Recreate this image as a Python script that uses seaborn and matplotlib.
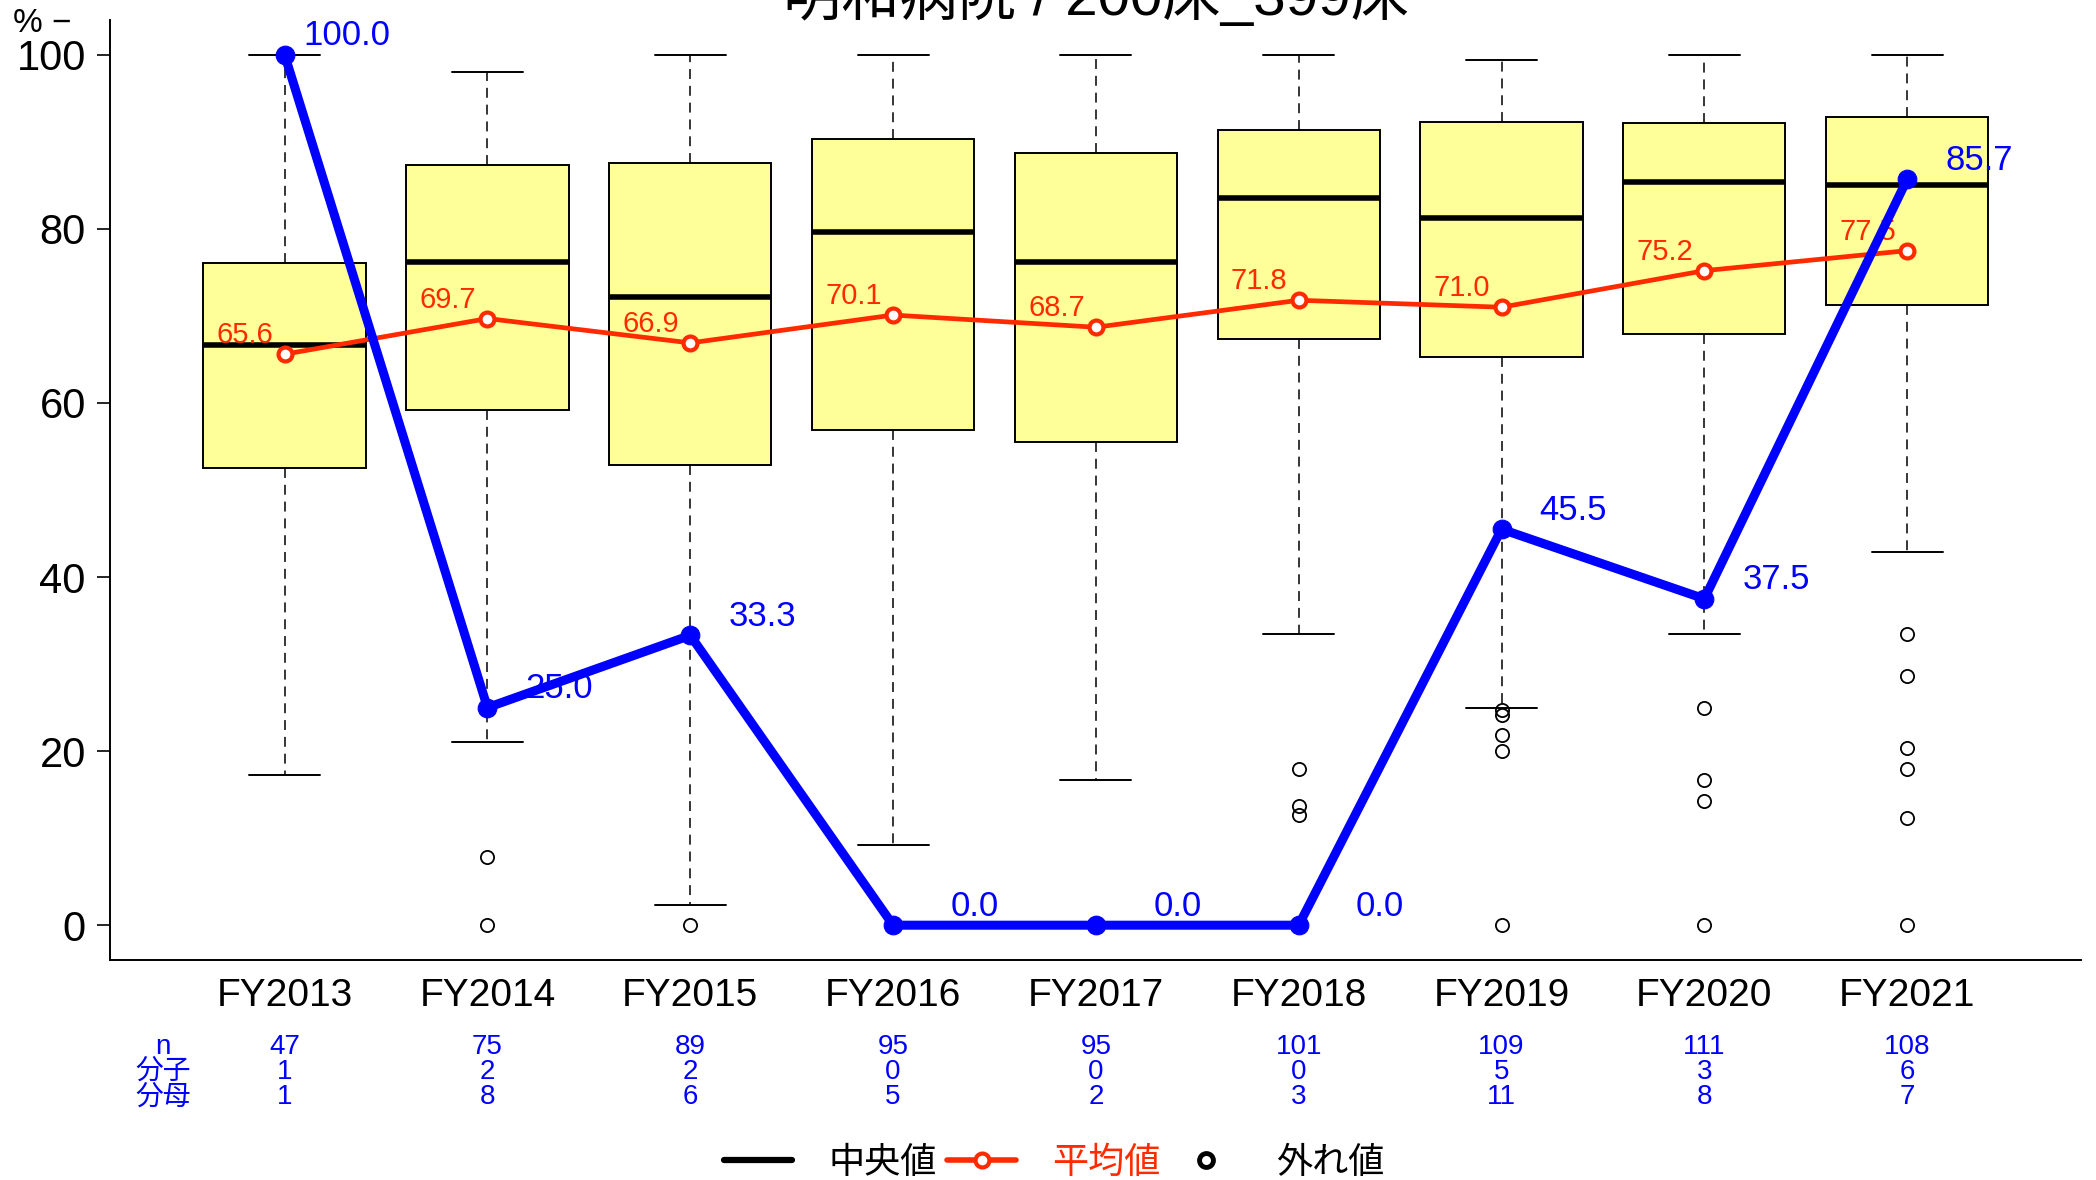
import matplotlib
matplotlib.use("Agg")
import matplotlib.pyplot as plt
import matplotlib.transforms as mtransforms
from matplotlib import font_manager as fm
from matplotlib.lines import Line2D
import numpy as np
import pandas as pd
import seaborn as sns

# ---------------- data ----------------
years = ["FY2013", "FY2014", "FY2015", "FY2016", "FY2017", "FY2018", "FY2019", "FY2020", "FY2021"]
q1 = [52.5, 59.2, 52.9, 56.9, 55.5, 67.3, 65.3, 67.9, 71.2]
median = [66.7, 76.2, 72.2, 79.6, 76.2, 83.6, 81.3, 85.4, 85.1]
q3 = [76.1, 87.3, 87.6, 90.3, 88.7, 91.4, 92.3, 92.2, 92.9]
whisker_low = [17.2, 21.0, 2.3, 9.2, 16.7, 33.4, 25.0, 33.4, 42.9]
whisker_high = [100.0, 98.0, 100.0, 100.0, 100.0, 100.0, 99.4, 100.0, 100.0]
outliers = [
    [],
    [7.8, 0.0],
    [0.0],
    [],
    [],
    [17.9, 13.7, 12.7],
    [24.7, 24.1, 21.8, 20.0, 0.0],
    [25.0, 16.7, 14.3, 0.0],
    [33.4, 28.6, 20.4, 18.0, 12.3, 0.0],
]
means = [65.6, 69.7, 66.9, 70.1, 68.7, 71.8, 71.0, 75.2, 77.5]
hospital = [100.0, 25.0, 33.3, 0.0, 0.0, 0.0, 45.5, 37.5, 85.7]
n_count = [47, 75, 89, 95, 95, 101, 109, 111, 108]
numerator = [1, 2, 2, 0, 0, 0, 5, 3, 6]
denominator = [1, 8, 6, 5, 2, 3, 11, 8, 7]
row_labels = ["n", "分子", "分母"]
legend_labels = ["中央値", "平均値", "外れ値"]
title = "明和病院 / 200床_399床"
y_ticks = [0, 20, 40, 60, 80, 100]

# ---------------- style ----------------
sns.set_theme(style="white")
names = {f.name for f in fm.fontManager.ttflist}
latin = "Liberation Sans Narrow" if "Liberation Sans Narrow" in names else "Liberation Sans"
plt.rcParams["font.family"] = [latin, "Noto Sans CJK JP", "DejaVu Sans"]
plt.rcParams["axes.unicode_minus"] = False

RED = "#FF2A00"
BLUE = "#0000FF"
YELLOW = "#FFFF99"

W, H = 2096, 1180
fig = plt.figure(figsize=(W / 100, H / 100), dpi=100)
ax = fig.add_axes([110 / W, 1 - 960 / H, (2081 - 110) / W, (960 - 20) / H])

pos = np.arange(1, len(years) + 1)

stats = [
    dict(med=median[i], q1=q1[i], q3=q3[i], whislo=whisker_low[i], whishi=whisker_high[i],
         fliers=outliers[i], label=years[i])
    for i in range(len(years))
]
ax.bxp(
    stats, positions=pos, widths=0.8, capwidths=0.35, patch_artist=True, showfliers=True,
    manage_ticks=False,
    boxprops=dict(facecolor=YELLOW, edgecolor="black", linewidth=1.4),
    whiskerprops=dict(color="black", linewidth=1.1, linestyle=(0, (6.5, 4.5))),
    capprops=dict(color="black", linewidth=1.4),
    medianprops=dict(color="black", linewidth=4.0, solid_capstyle="butt"),
    flierprops=dict(marker="o", markerfacecolor="none", markeredgecolor="black",
                    markersize=9.5, markeredgewidth=1.3),
)

df = pd.DataFrame({"pos": pos, "mean": means, "hospital": hospital})

sns.lineplot(data=df, x="pos", y="mean", ax=ax, color=RED, linewidth=3.4, marker="o",
             markersize=10, markerfacecolor="white", markeredgecolor=RED,
             markeredgewidth=3.0, zorder=4)
for x, v in zip(pos, means):
    ax.annotate(f"{v:.1f}", (x, v), xytext=(-8, 13.7), textcoords="offset points",
                ha="right", va="center", color=RED, fontsize=21, zorder=5)

sns.lineplot(data=df, x="pos", y="hospital", ax=ax, color=BLUE, linewidth=6.5, marker="o",
             markersize=13.5, markerfacecolor=BLUE, markeredgecolor=BLUE, zorder=6)
for x, v in zip(pos, hospital):
    ax.annotate(f"{v:.1f}", (x, v), xytext=(76, 13.7), textcoords="offset points",
                ha="right", va="center", color=BLUE, fontsize=25, zorder=7)

# ---------------- axes ----------------
ax.set_xlim(0.139, 9.857)
ax.set_ylim(-4, 104)
ax.set_xticks(pos)
ax.set_xticklabels(years)
ax.set_yticks(y_ticks)
ax.set_yticklabels([str(t) for t in y_ticks])
ax.set_xlabel("")
ax.set_ylabel("")
ax.tick_params(axis="y", direction="out", length=9.4, width=1.2, color="black",
               labelsize=30, pad=8, left=True, labelcolor="black")
ax.tick_params(axis="x", length=0, labelsize=28, pad=13, labelcolor="black")
for s in ["top", "right"]:
    ax.spines[s].set_visible(False)
for s in ["left", "bottom"]:
    ax.spines[s].set_color("black")
    ax.spines[s].set_linewidth(1.4)
ax.grid(False)

fig.text(13 / W, 1 - 24 / H, "% −", ha="left", va="center", fontsize=24, color="black")

fig.text(1096 / W, 1 - 15 / H, title, ha="center", va="baseline", fontsize=42, color="black")

# ---------------- table under the axis ----------------
trans = mtransforms.blended_transform_factory(ax.transData, fig.transFigure)
row_y = [1 - 1046.6 / H, 1 - 1072 / H, 1 - 1097.4 / H]
rows = [n_count, numerator, denominator]
for lab, yy, vals in zip(row_labels, row_y, rows):
    fig.text(163 / W, yy, lab, ha="center", va="center", color=BLUE, fontsize=20)
    for x, v in zip(pos, vals):
        ax.text(x, yy, str(v), transform=trans, ha="center", va="center", color=BLUE,
                fontsize=20, clip_on=False)

# ---------------- legend ----------------
handles = [
    Line2D([], [], color="black", linewidth=4.5, solid_capstyle="round"),
    Line2D([], [], color=RED, linewidth=4.0, marker="o", markersize=10,
           markerfacecolor="white", markeredgecolor=RED, markeredgewidth=3.0),
    Line2D([], [], linestyle="none", marker="o", markersize=10, markerfacecolor="white",
           markeredgecolor="black", markeredgewidth=3.5),
]
leg = fig.legend(handles, legend_labels, loc="center", bbox_to_anchor=(1054 / W, 1 - 1163 / H),
                 ncol=3, frameon=False, fontsize=26, handlelength=1.9, handletextpad=1.0,
                 columnspacing=0.3, borderpad=0, borderaxespad=0)
for t, c in zip(leg.get_texts(), ["black", RED, "black"]):
    t.set_color(c)

fig.savefig("out.png", dpi=100)
